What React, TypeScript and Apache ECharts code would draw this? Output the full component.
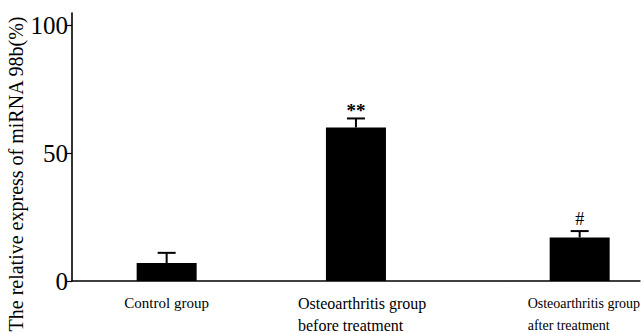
import React, { useEffect, useRef } from 'react';
import * as echarts from 'echarts';

const categories = [
  'Control group',
  'Osteoarthritis group\nbefore treatment',
  'Osteoarthritis group\nafter treatment',
];
const values = [7, 60, 17];
const errors = [4, 3.5, 2.5];
const marks = ['', '**', '#'];
const yTicks = [0, 50, 100];
const yTitle = 'The relative express of miRNA 98b(%)';

// layout: bars sit in slots of a finer category axis to match the uneven spacing
const SLOT_COUNT = 33;
const SLOTS = [5, 16, 29];
const LABEL_STYLE = ['c', 'b', 'a'];
const SERIF = "'Liberation Serif', 'Times New Roman', serif";

export default function App() {
  const ref = useRef<HTMLDivElement>(null);

  useEffect(() => {
    if (!ref.current) return;
    const chart = echarts.init(ref.current, null, { renderer: 'svg' });

    const axisData: string[] = new Array(SLOT_COUNT).fill('');
    const barData: any[] = new Array(SLOT_COUNT).fill('-');
    SLOTS.forEach((s, i) => {
      axisData[s] = categories[i];
      barData[s] = values[i];
    });
    const errData = SLOTS.map((s, i) => [s, values[i], errors[i], i]);

    chart.setOption({
      animation: false,
      grid: { left: 72, top: 13, bottom: 51, right: 0, containLabel: false },
      xAxis: {
        type: 'category',
        data: axisData,
        axisLine: { lineStyle: { color: '#000', width: 1.6 } },
        axisTick: { show: false },
        axisLabel: {
          interval: 0,
          margin: 11,
          color: '#000',
          fontFamily: SERIF,
          formatter: (v: string, idx: number) => {
            const k = SLOTS.indexOf(idx);
            if (k < 0) return '';
            const st = LABEL_STYLE[k];
            return categories[k]
              .split('\n')
              .map((line) => `{${st}|${line}}`)
              .join('\n');
          },
          rich: {
            c: { fontFamily: SERIF, fontSize: 15, color: '#000', lineHeight: 22 },
            b: {
              fontFamily: SERIF,
              fontSize: 16,
              color: '#000',
              lineHeight: 22,
              width: 130,
              align: 'left',
              padding: [0, 0, 0, 14],
            },
            a: {
              fontFamily: SERIF,
              fontSize: 14,
              color: '#000',
              lineHeight: 22,
              width: 111,
              align: 'left',
              padding: [0, 0, 0, 7],
            },
          },
        },
      },
      yAxis: {
        type: 'value',
        min: 0,
        max: 104.7,
        interval: 50,
        splitLine: { show: false },
        axisLine: { show: true, lineStyle: { color: '#000', width: 1.6 } },
        axisTick: {
          show: true,
          length: 5,
          customValues: yTicks,
          lineStyle: { color: '#000', width: 1.2 },
        },
        axisLabel: {
          customValues: yTicks,
          margin: 4,
          color: '#000',
          fontFamily: SERIF,
          fontSize: 25,
        },
      },
      graphic: [
        {
          type: 'text',
          x: 16,
          y: 174,
          rotation: Math.PI / 2,
          style: {
            text: yTitle,
            fontFamily: SERIF,
            fontSize: 20,
            fill: '#000',
            align: 'center',
            verticalAlign: 'middle',
          },
        },
      ],
      series: [
        {
          type: 'bar',
          data: barData,
          barWidth: 60,
          itemStyle: { color: '#000' },
        },
        {
          type: 'custom',
          data: errData,
          z: 5,
          renderItem: (params: any, api: any) => {
            const x = api.value(0);
            const v = api.value(1);
            const e = api.value(2);
            const k = api.value(3);
            const base = api.coord([x, v]);
            const top = api.coord([x, v + e]);
            const capHalf = 9;
            const children: any[] = [
              {
                type: 'line',
                shape: { x1: top[0], y1: base[1], x2: top[0], y2: top[1] },
                style: { stroke: '#000', lineWidth: 2 },
              },
              {
                type: 'line',
                shape: { x1: top[0] - capHalf, y1: top[1], x2: top[0] + capHalf, y2: top[1] },
                style: { stroke: '#000', lineWidth: 2 },
              },
            ];
            const m = marks[k];
            if (m) {
              children.push({
                type: 'text',
                x: top[0],
                y: top[1] - (m === '#' ? 12 : 8),
                style: {
                  text: m,
                  fontFamily: SERIF,
                  fontSize: m === '#' ? 18 : 19,
                  fontWeight: m === '#' ? 'normal' : 'bold',
                  fill: '#000',
                  align: 'center',
                  verticalAlign: 'middle',
                },
              });
            }
            return { type: 'group', children };
          },
        },
      ],
    });

    return () => chart.dispose();
  }, []);

  return (
    <div
      ref={ref}
      style={{ position: 'fixed', left: 0, top: 0, width: 643, height: 333, background: '#fff' }}
    />
  );
}
